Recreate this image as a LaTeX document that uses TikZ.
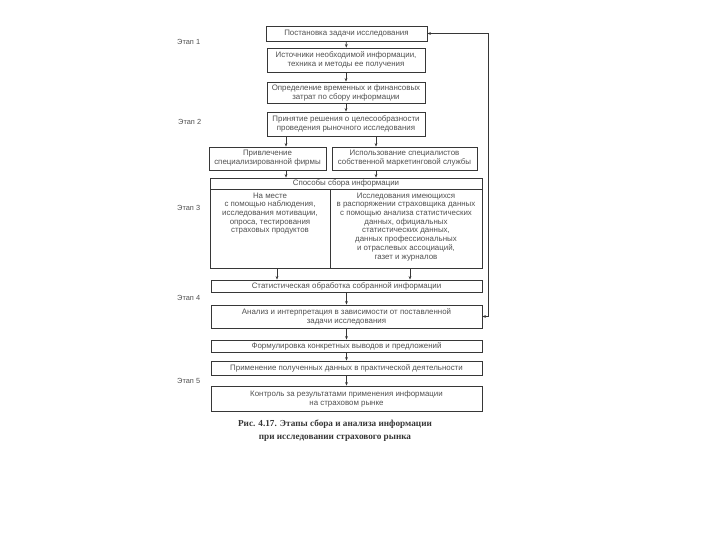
\documentclass[tikz,border=0pt]{standalone}
\usepackage{fontspec}
\setmainfont{Liberation Sans}
\newfontfamily\captionfont{Liberation Serif}
\usepackage{tikz}
\usetikzlibrary{arrows.meta, positioning, calc}
\definecolor{scanink}{RGB}{55, 55, 55}
\definecolor{scantext}{RGB}{80, 80, 80}

\tikzset{
    stagebox/.style={draw=scanink, line width=0.9pt, inner sep=1pt, align=center,
        font=\fontsize{7.9}{9}\selectfont, text=scantext},
    bodytext/.style={inner sep=0pt, align=center, font=\fontsize{7.9}{8.7}\selectfont, text=scantext},
    stagelabel/.style={anchor=west, inner sep=0pt, font=\fontsize{7.4}{8}\selectfont, text=scantext},
    arr/.style={-{Stealth[length=3.5pt, width=2.8pt]}, draw=scanink, line width=0.7pt},
    looparr/.style={{Stealth[length=3.5pt, width=2.8pt]}-{Stealth[length=3.5pt, width=2.8pt]}, draw=scanink, line width=0.7pt}
}

\begin{document}
\begin{tikzpicture}[x=1pt, y=-1pt]
    \useasboundingbox (0,0) rectangle (720,540);

    % Stages 1-2
    \node[stagebox, minimum width=161pt, minimum height=15pt] (task) at (346.5, 33.5) {Постановка задачи исследования};
    \node[stagebox, minimum width=158pt, minimum height=24pt] (sources) at (346, 60) {Источники необходимой информации,\\техника и методы ее получения};
    \node[stagebox, minimum width=158pt, minimum height=21pt] (costs) at (346, 92.5) {Определение временных и финансовых\\затрат по сбору информации};
    \node[stagebox, minimum width=158pt, minimum height=24pt] (decision) at (346, 124) {Принятие решения о целесообразности\\проведения рыночного исследования};

    \node[stagebox, minimum width=117pt, minimum height=23pt] (firm) at (267.5, 158.5) {Привлечение\\специализированной фирмы};
    \node[stagebox, minimum width=145pt, minimum height=23pt] (own) at (404.5, 158.5) {Использование специалистов\\собственной маркетинговой службы};

    % Stage 3
    \node[stagebox, minimum width=272pt, minimum height=11pt] (methods) at (346, 183.5) {Способы сбора информации};
    \node[stagebox, minimum width=120pt, minimum height=79pt] (field) at (270, 228.5) {};
    \node[stagebox, minimum width=152pt, minimum height=79pt] (desk) at (406, 228.5) {};
    \node[bodytext, below=4pt of field.north] (fieldtext) {На месте\\с помощью наблюдения,\\исследования мотивации,\\опроса, тестирования\\страховых продуктов};
    \node[bodytext, below=4pt of desk.north] (desktext) {Исследования имеющихся\\в распоряжении страховщика данных\\с помощью анализа статистических\\данных, официальных\\статистических данных,\\данных профессиональных\\и отраслевых ассоциаций,\\газет и журналов};

    % Stages 4-5
    \node[stagebox, minimum width=271pt, minimum height=12pt] (stats) at (346.5, 286) {Статистическая обработка собранной информации};
    \node[stagebox, minimum width=271pt, minimum height=23pt] (analysis) at (346.5, 316.5) {Анализ и интерпретация в зависимости от поставленной\\задачи исследования};
    \node[stagebox, minimum width=271pt, minimum height=12pt] (findings) at (346.5, 346) {Формулировка конкретных выводов и предложений};
    \node[stagebox, minimum width=271pt, minimum height=14pt] (usage) at (346.5, 368) {Применение полученных данных в практической деятельности};
    \node[stagebox, minimum width=271pt, minimum height=25pt] (control) at (346.5, 398.5) {Контроль за результатами применения информации\\на страховом рынке};

    % Stage labels
    \node[stagelabel] (st1) at (177, 42) {Этап 1};
    \node[stagelabel] (st2) at (178, 121.5) {Этап 2};
    \node[stagelabel] (st3) at (177, 208) {Этап 3};
    \node[stagelabel] (st4) at (177, 298) {Этап 4};
    \node[stagelabel] (st5) at (177, 381) {Этап 5};

    % Arrows
    \coordinate (xa) at (286, 0);
    \coordinate (xb) at (376, 0);
    \coordinate (xc) at (277, 0);
    \coordinate (xd) at (410, 0);
    \draw[arr] (task) -- (sources);
    \draw[arr] (sources) -- (costs);
    \draw[arr] (costs) -- (decision);
    \draw[arr] (xa |- decision.south) -- (xa |- firm.north);
    \draw[arr] (xb |- decision.south) -- (xb |- own.north);
    \draw[arr] (xa |- firm.south) -- (xa |- methods.north);
    \draw[arr] (xb |- own.south) -- (xb |- methods.north);
    \draw[arr] (xc |- field.south) -- (xc |- stats.north);
    \draw[arr] (xd |- desk.south) -- (xd |- stats.north);
    \draw[arr] (stats) -- (analysis);
    \draw[arr] (analysis) -- (findings);
    \draw[arr] (findings) -- (usage);
    \draw[arr] (usage) -- (control);

    % Feedback line
    \coordinate (loopTop) at (488, 33.5);
    \coordinate (loopBot) at (488, 316.5);
    \draw[looparr] (task.east) -- (loopTop) -- (loopBot) -- (analysis.east);

    % Caption
    \node[inner sep=0pt, align=center, text=scanink, font=\captionfont\bfseries\fontsize{9.2}{13.5}\selectfont] (caption) at (335, 430.5)
        {Рис. 4.17. Этапы сбора и анализа информации\\при исследовании страхового рынка};
\end{tikzpicture}
\end{document}
